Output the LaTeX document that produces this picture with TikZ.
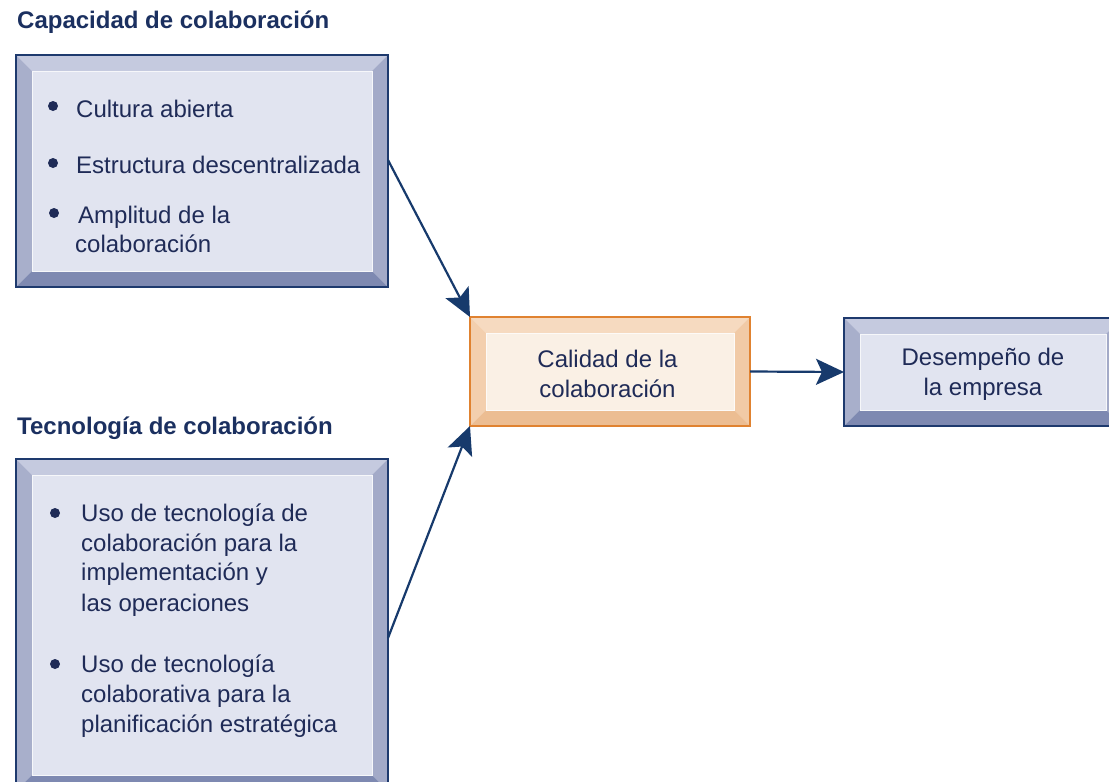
\documentclass[tikz,border=0pt]{standalone}
\usepackage{fontspec}
\setmainfont{Liberation Sans}
\usetikzlibrary{arrows.meta,calc}
\definecolor{navy}{HTML}{1E3A6E}
\definecolor{txt}{HTML}{1F2B57}
\definecolor{ttl}{HTML}{1B3060}
\definecolor{btop}{HTML}{C5CADF}
\definecolor{bleft}{HTML}{A8AFCB}
\definecolor{bright}{HTML}{A3AAC8}
\definecolor{bbot}{HTML}{7E89B1}
\definecolor{binner}{HTML}{E1E4F0}
\definecolor{oborder}{HTML}{E08230}
\definecolor{otop}{HTML}{F6DAC0}
\definecolor{oleft}{HTML}{F3CFAE}
\definecolor{oright}{HTML}{F1CAA6}
\definecolor{obot}{HTML}{ECBD92}
\definecolor{oinner}{HTML}{FAF0E5}
\definecolor{arrowc}{HTML}{173A6C}
\newcommand\bevelfill[5]{%
 \fill[#5] (path picture bounding box.south west) rectangle (path picture bounding box.north east);
 \fill[#1] (path picture bounding box.north west) -- (path picture bounding box.north east) -- ([xshift=-16pt,yshift=-16pt]path picture bounding box.north east) -- ([xshift=16pt,yshift=-16pt]path picture bounding box.north west) -- cycle;
 \fill[#2] (path picture bounding box.north west) -- ([xshift=16pt,yshift=-16pt]path picture bounding box.north west) -- ([xshift=16pt,yshift=16pt]path picture bounding box.south west) -- (path picture bounding box.south west) -- cycle;
 \fill[#3] (path picture bounding box.north east) -- ([xshift=-16pt,yshift=-16pt]path picture bounding box.north east) -- ([xshift=-16pt,yshift=16pt]path picture bounding box.south east) -- (path picture bounding box.south east) -- cycle;
 \fill[#4] (path picture bounding box.south west) -- ([xshift=16pt,yshift=16pt]path picture bounding box.south west) -- ([xshift=-16pt,yshift=16pt]path picture bounding box.south east) -- (path picture bounding box.south east) -- cycle;
 \draw[white!70!#5, line width=0.8pt] ([xshift=16pt,yshift=16pt]path picture bounding box.south west) rectangle ([xshift=-16pt,yshift=-16pt]path picture bounding box.north east);
}
\tikzset{
  bluebox/.style={draw=navy, line width=1.6pt, inner sep=0pt, outer sep=0pt,
    path picture={\bevelfill{btop}{bleft}{bright}{bbot}{binner}}},
  orangebox/.style={draw=oborder, line width=1.6pt, inner sep=0pt, outer sep=0pt,
    path picture={\bevelfill{otop}{oleft}{oright}{obot}{oinner}}},
  txtline/.style={text=txt, font=\fontsize{24}{30}\selectfont, inner sep=0pt, anchor=base west},
  ctrline/.style={text=txt, font=\fontsize{24}{30}\selectfont, inner sep=0pt, anchor=base},
  title/.style={text=ttl, font=\fontsize{24}{30}\selectfont\bfseries, inner sep=0pt, anchor=base west},
  bullet/.style={fill=txt},
  arr/.style={draw=arrowc, line width=2.2pt, -{Stealth[length=28pt,width=26pt,inset=6pt]}}
}
\begin{document}
\begin{tikzpicture}[x=1pt,y=-1pt]
\useasboundingbox (0,0) rectangle (1109,782);
\clip (0,0) rectangle (1109,782);
\fill[white] (0,0) rectangle (1109,782);

% boxes
\node[bluebox, minimum width=372pt, minimum height=232pt] (cap) at (202,171) {};
\node[bluebox, minimum width=372pt, minimum height=332pt] (tec) at (202,625) {};
\node[orangebox, minimum width=280pt, minimum height=109pt] (cal) at (610,371.5) {};
\node[bluebox, minimum width=278pt, minimum height=108pt] (des) at (983,372) {};

% titles
\node[title] (t1) at (17,28) {Capacidad de colaboración};
\node[title] (t2) at (17,434) {Tecnología de colaboración};

% box 1 text
\fill[bullet] (53,106) circle[radius=5pt];
\fill[bullet] (53,163) circle[radius=5pt];
\fill[bullet] (54,213) circle[radius=5pt];
\node[txtline] (c1) at (76,117) {Cultura abierta};
\node[txtline] (c2) at (76,173) {Estructura descentralizada};
\node[txtline] (c3) at (78,223) {Amplitud de la};
\node[txtline] (c4) at (75,252) {colaboración};

% box 2 text
\fill[bullet] (55,513) circle[radius=5pt];
\fill[bullet] (55,664) circle[radius=5pt];
\node[txtline] (u1) at (81,521) {Uso de tecnología de};
\node[txtline] (u2) at (81,551) {colaboración para la};
\node[txtline] (u3) at (81,580) {implementación y};
\node[txtline] (u4) at (81,611) {las operaciones};
\node[txtline] (v1) at (81,672) {Uso de tecnología};
\node[txtline] (v2) at (81,702) {colaborativa para la};
\node[txtline] (v3) at (81,732) {planificación estratégica};

% center box text
\node[ctrline] (k1) at (607.5,367) {Calidad de la};
\node[ctrline] (k2) at (607.5,397) {colaboración};

% right box text
\node[ctrline] (d1) at (983,365) {Desempeño de};
\node[ctrline] (d2) at (983,395) {la empresa};

% arrows
\draw[arr] ([yshift=11pt]cap.east) -- (cal.north west);
\draw[arr] ([yshift=-13pt]tec.east) -- (cal.south west);
\draw[arr] (cal.east) -- (des.west);
\end{tikzpicture}
\end{document}
